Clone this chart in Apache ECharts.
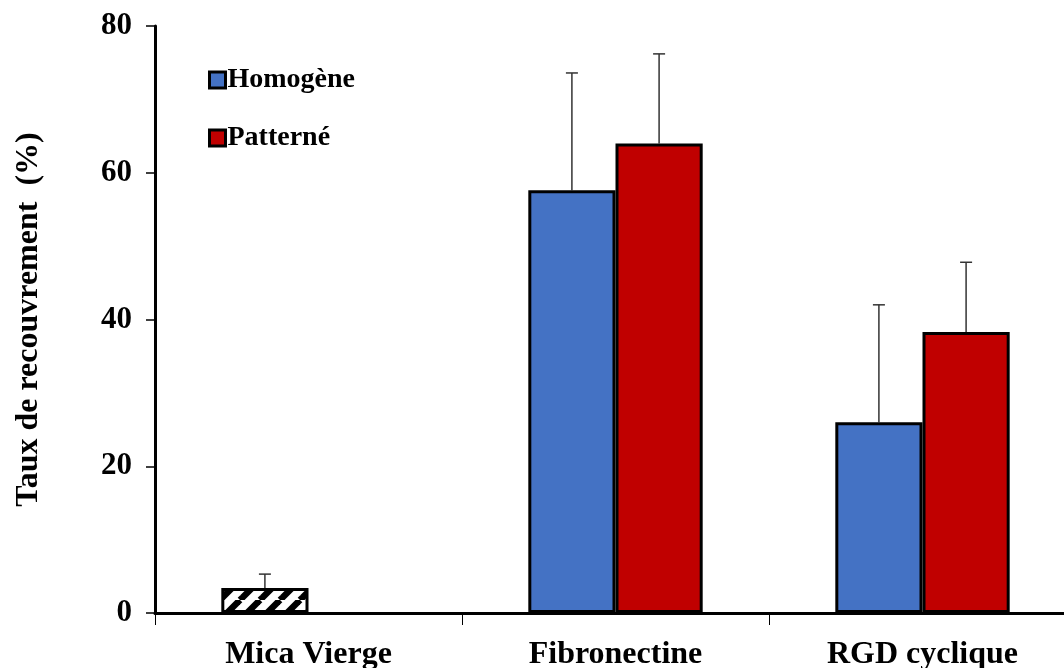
<!DOCTYPE html>
<html>
<head>
<meta charset="utf-8">
<script src="https://cdn.jsdelivr.net/npm/echarts@6/dist/echarts.min.js"></script>
<style>
  html, body { margin: 0; padding: 0; background: #fff; }
  #main { width: 1064px; height: 668px; }
</style>
</head>
<body>
<div id="main"></div>
<script>
var categories = ['Mica Vierge', 'Fibronectine', 'RGD cyclique'];
var homogene = [3.4, 57.6, 26.0];
var homogeneErr = [1.9, 16.0, 16.0];
var patterne = ['-', 64.0, 38.3];
var patterneErr = ['-', 12.2, 9.5];
var yTicks = [0, 80, 20];

// hachures pour la barre Mica Vierge
var hatch = document.createElement('canvas');
hatch.width = 20; hatch.height = 20;
var ctx = hatch.getContext('2d');
ctx.fillStyle = '#fff';
ctx.fillRect(0, 0, 20, 20);
ctx.strokeStyle = '#000';
ctx.lineWidth = 6.5;
[-20, 0, 20].forEach(function (d) {
  ctx.beginPath();
  ctx.moveTo(d, 20);
  ctx.lineTo(d + 20, 0);
  ctx.stroke();
});

var font = 'Liberation Serif';

function errorSeries(values, errs, side) {
  return {
    type: 'custom',
    z: 1,
    silent: true,
    data: values.map(function (v, i) { return [i, v, errs[i]]; }),
    renderItem: function (params, api) {
      var v = api.value(1), e = api.value(2);
      if (isNaN(v) || isNaN(e)) return;
      var band = api.size([1, 0])[0];
      var off = side * band * 0.142;
      var p0 = api.coord([api.value(0), v]);
      var p1 = api.coord([api.value(0), v + e]);
      var x = p0[0] + off;
      var st = { stroke: '#333', lineWidth: 1.5 };
      return {
        type: 'group',
        children: [
          { type: 'line', shape: { x1: x, y1: p0[1], x2: x, y2: p1[1] }, style: st },
          { type: 'line', shape: { x1: x - 6, y1: p1[1], x2: x + 6, y2: p1[1] }, style: st }
        ]
      };
    }
  };
}

var myChart = echarts.init(document.getElementById('main'));
myChart.setOption({
  animation: false,
  textStyle: { fontFamily: font, color: '#000' },
  grid: { left: 155, right: -12, top: 26, bottom: 55, containLabel: false, outerBoundsMode: 'none' },
  legend: {
    data: ['Homogène', 'Patterné'],
    orient: 'vertical',
    left: 203,
    top: 61,
    itemWidth: 16,
    itemHeight: 16,
    itemGap: 30,
    icon: 'rect',
    itemStyle: { borderColor: '#000', borderWidth: 3 },
    textStyle: { fontFamily: font, fontWeight: 'bold', fontSize: 28, color: '#000', padding: [0, 0, 0, -3] }
  },
  xAxis: {
    type: 'category',
    data: categories,
    axisLine: { lineStyle: { color: '#000', width: 3 } },
    axisTick: { show: true, length: 12, lineStyle: { color: '#000', width: 1 } },
    axisLabel: { fontFamily: font, fontWeight: 'bold', fontSize: 32, color: '#000', margin: 26 }
  },
  yAxis: {
    type: 'value',
    min: yTicks[0],
    max: yTicks[1],
    interval: yTicks[2],
    name: 'Taux de recouvrement  (%)',
    nameLocation: 'middle',
    nameGap: 110,
    nameTextStyle: { fontFamily: font, fontWeight: 'bold', fontSize: 32, color: '#000' },
    splitLine: { show: false },
    axisLine: { show: true, lineStyle: { color: '#000', width: 3 } },
    axisTick: { show: true, length: 9, lineStyle: { color: '#000', width: 1.5 } },
    axisLabel: { fontFamily: font, fontWeight: 'bold', fontSize: 31, color: '#000', margin: 23 }
  },
  series: [
    {
      name: 'Homogène',
      type: 'bar',
      z: 2,
      barWidth: '28.4%',
      barGap: '0%',
      itemStyle: { color: '#4472C4', borderColor: '#000', borderWidth: 3 },
      data: homogene.map(function (v, i) {
        return i === 0 ? { value: v, itemStyle: { color: { image: hatch, repeat: 'repeat' } } } : v;
      })
    },
    {
      name: 'Patterné',
      type: 'bar',
      z: 2,
      barWidth: '28.4%',
      barGap: '0%',
      itemStyle: { color: '#C00000', borderColor: '#000', borderWidth: 3 },
      data: patterne
    },
    errorSeries(homogene, homogeneErr, -1),
    errorSeries(patterne, patterneErr, 1)
  ]
});
</script>
</body>
</html>
